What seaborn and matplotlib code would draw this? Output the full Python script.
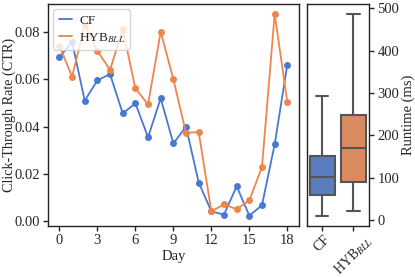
import numpy as np
import pandas as pd
import matplotlib
matplotlib.use("Agg")
import matplotlib.pyplot as plt
import seaborn as sns

days = list(range(19))
ctr_cf = [0.0694, 0.0758, 0.0510, 0.0596, 0.0622, 0.0456, 0.0499, 0.0355, 0.0520, 0.0329,
          0.0400, 0.0164, 0.0042, 0.0028, 0.0148, 0.0024, 0.0068, 0.0325, 0.0662]
ctr_hyb = [0.0743, 0.0611, 0.0830, 0.0720, 0.0640, 0.0812, 0.0562, 0.0494, 0.0801, 0.0600,
           0.0374, 0.0377, 0.0042, 0.0072, 0.0051, 0.0088, 0.0230, 0.0876, 0.0504]
# runtime summary values (min, Q1, median, Q3, max)
runtime_cf = [11, 58.5, 102, 152, 292]
runtime_hyb = [21, 91, 171, 249, 486]
methods = ["CF", "HYB$_{BLL}$"]
colors = ["#4878d0", "#ee854a"]

sns.set_theme(style="ticks", rc={
    "xtick.major.size": 3.5, "ytick.major.size": 3.5,
    "xtick.major.width": 1.0, "ytick.major.width": 1.0,
    "xtick.major.pad": 2.5, "ytick.major.pad": 2.5,
})
plt.rcParams["font.family"] = ["Liberation Serif", "DejaVu Serif"]
plt.rcParams["mathtext.fontset"] = "stix"
plt.rcParams["font.size"] = 10

FS = 10.5

df_line = pd.DataFrame({
    "Day": days * 2,
    "CTR": ctr_cf + ctr_hyb,
    "Method": [methods[0]] * len(days) + [methods[1]] * len(days),
})
df_box = pd.DataFrame({
    "Method": [methods[0]] * len(runtime_cf) + [methods[1]] * len(runtime_hyb),
    "Runtime": runtime_cf + runtime_hyb,
})

fig = plt.figure(figsize=(4.15, 2.77), dpi=100)
ax1 = fig.add_axes([0.1157, 0.1852, 0.6041, 0.8004])
ax2 = fig.add_axes([0.739, 0.1852, 0.1501, 0.8004])

sns.lineplot(data=df_line, x="Day", y="CTR", hue="Method", palette=colors,
             marker="o", markersize=5, markeredgewidth=0, linewidth=1.3, ax=ax1)
ax1.set_xticks([0, 3, 6, 9, 12, 15, 18])
ax1.set_yticks([0.00, 0.02, 0.04, 0.06, 0.08])
ax1.set_ylabel("Click-Through Rate (CTR)", fontsize=10.2)
ax1.yaxis.set_label_coords(-0.126, 0.5)
ax1.set_xlabel("Day", fontsize=FS, labelpad=2)
ax1.tick_params(labelsize=FS)
leg = ax1.legend(loc="upper left", fontsize=9.5, handlelength=1.05,
                 handletextpad=0.5, labelspacing=0.3, borderaxespad=0.4,
                 framealpha=0.8)
leg.set_title(None)
for h in leg.legend_handles:
    h.set_marker("")

sns.boxplot(data=df_box, x="Method", y="Runtime", hue="Method", palette=colors,
            whis=(0, 100), width=0.8, linewidth=1.5, linecolor="#555555", ax=ax2,
            legend=False)
ax2.set_ylim(-12.75, 509.75)
ax2.set_yticks([0, 100, 200, 300, 400, 500])
ax2.yaxis.tick_right()
ax2.yaxis.set_label_position("right")
ax2.set_ylabel("Runtime (ms)", fontsize=FS, labelpad=2)
ax2.set_xlabel("")
ax2.tick_params(axis="y", labelsize=FS)
ax2.tick_params(axis="x", labelsize=10, pad=1.5)
for lab in ax2.get_xticklabels():
    lab.set_rotation(45)
    lab.set_ha("center")

for ax in (ax1, ax2):
    for s in ax.spines.values():
        s.set_visible(True)
        s.set_color("#222222")
        s.set_linewidth(1.0)

fig.savefig("out.png", dpi=100)
